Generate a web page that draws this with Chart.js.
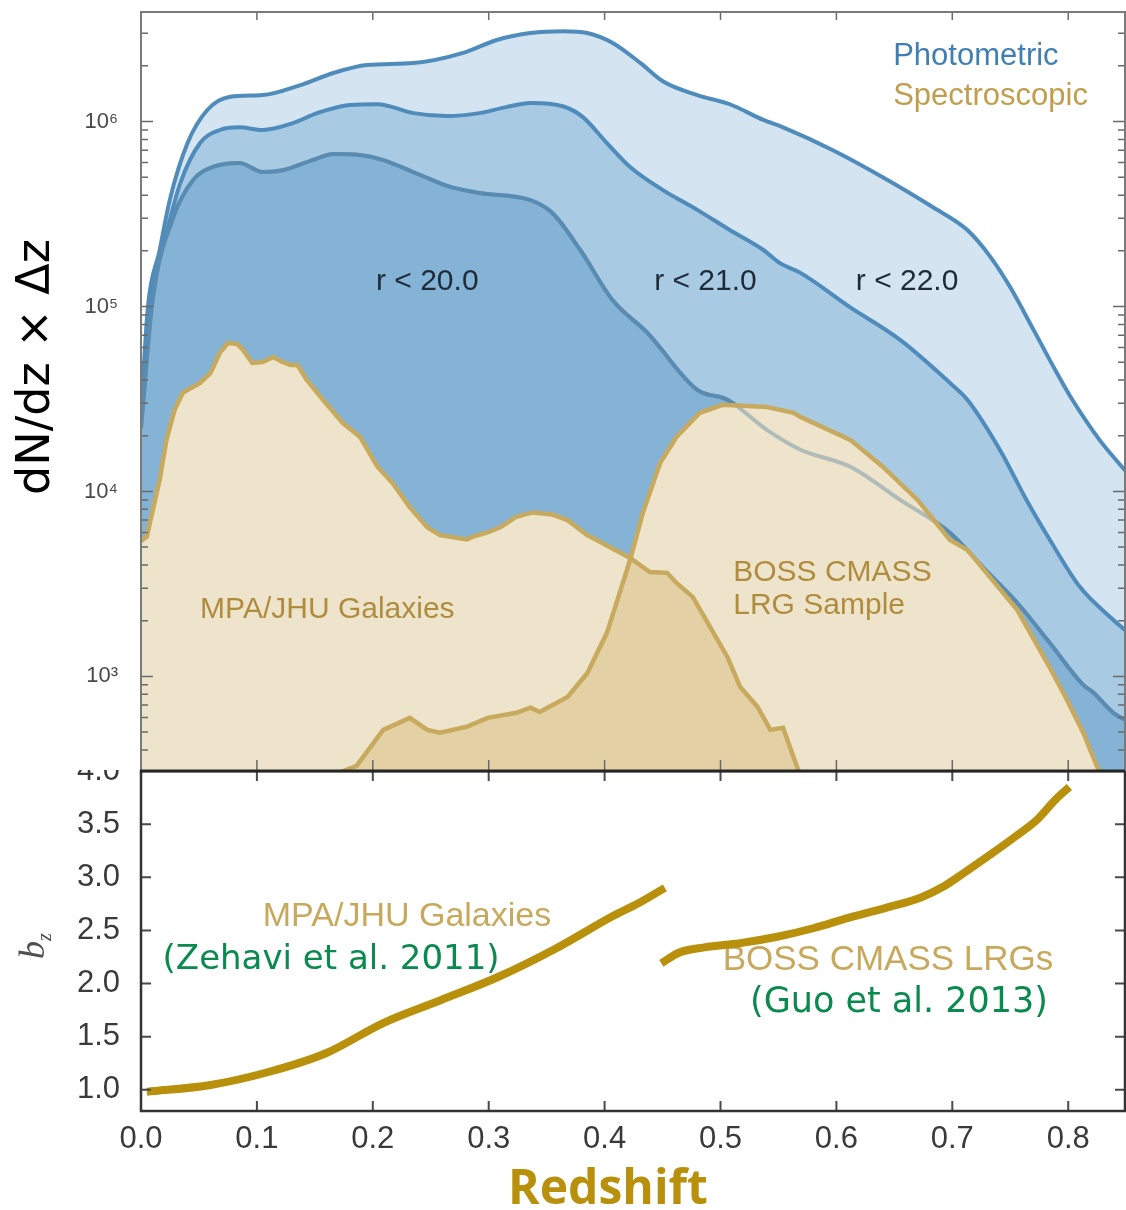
<!DOCTYPE html>
<html>
<head>
<meta charset="utf-8">
<title>Galaxy counts and bias vs redshift</title>
<script src="https://cdn.jsdelivr.net/npm/chart.js"></script>
<style>
  html, body { margin: 0; padding: 0; background: #fff; }
  #wrap { position: relative; width: 1126px; height: 1210px; overflow: hidden; }
  #wrap canvas { position: absolute; left: 0; top: 0; }
</style>
</head>
<body>
<div id="wrap">
  <canvas id="biasChart" width="1126" height="1210"></canvas>
  <canvas id="countChart" width="1126" height="1210"></canvas>
</div>
<script>
// --- axes ---
const xMax = 0.849;
const xTicks = [0, 0.1, 0.2, 0.3, 0.4, 0.5, 0.6, 0.7, 0.8];
const countMin = 308;
const countMax = 3.91e6;
const decadeTicks = [1e3, 1e4, 1e5, 1e6];
const biasMin = 0.8;
const biasMax = 4.0;
const biasTicks = [1.0, 1.5, 2.0, 2.5, 3.0, 3.5, 4.0];

// --- photometric samples: dN/dz x dz ---
const r22Z = [0, 0.006, 0.016, 0.025, 0.040, 0.057, 0.077, 0.105, 0.137, 0.166, 0.195, 0.235, 0.278, 0.307, 0.336, 0.364, 0.385, 0.407, 0.431, 0.451, 0.480, 0.508, 0.537, 0.554, 0.597, 0.640, 0.683, 0.713, 0.733, 0.750, 0.770, 0.790, 0.804, 0.827, 0.849];
const r22N = [2.6e4, 1.0e5, 2.0e5, 3.8e5, 7.6e5, 1.15e6, 1.36e6, 1.39e6, 1.57e6, 1.83e6, 2.02e6, 2.07e6, 2.35e6, 2.76e6, 3.01e6, 3.08e6, 3.01e6, 2.66e6, 2.07e6, 1.64e6, 1.39e6, 1.24e6, 1.02e6, 9.3e5, 7.0e5, 5.0e5, 3.45e5, 2.59e5, 1.85e5, 1.27e5, 7.5e4, 4.4e4, 3.1e4, 1.9e4, 1.3e4];

const r21Z = [0, 0.008, 0.022, 0.034, 0.051, 0.068, 0.085, 0.105, 0.131, 0.152, 0.180, 0.204, 0.235, 0.264, 0.292, 0.316, 0.336, 0.364, 0.381, 0.402, 0.422, 0.450, 0.480, 0.508, 0.537, 0.551, 0.569, 0.612, 0.655, 0.698, 0.713, 0.741, 0.764, 0.784, 0.810, 0.839, 0.849];
const r21N = [2.4e4, 1.05e5, 2.5e5, 4.66e5, 7.65e5, 9.0e5, 9.3e5, 9.0e5, 9.8e5, 1.11e6, 1.23e6, 1.24e6, 1.11e6, 1.07e6, 1.11e6, 1.20e6, 1.26e6, 1.21e6, 1.06e6, 7.65e5, 5.68e5, 4.27e5, 3.33e5, 2.59e5, 2.02e5, 1.72e5, 1.52e5, 9.9e4, 6.6e4, 3.86e4, 3.13e4, 1.68e4, 9.0e3, 5.5e3, 3.05e3, 2.02e3, 1.78e3];

const r20Z = [0, 0.010, 0.028, 0.045, 0.062, 0.085, 0.105, 0.123, 0.148, 0.166, 0.189, 0.209, 0.241, 0.267, 0.292, 0.336, 0.355, 0.379, 0.407, 0.437, 0.480, 0.506, 0.540, 0.569, 0.612, 0.655, 0.698, 0.726, 0.756, 0.784, 0.813, 0.821, 0.839, 0.849];
const r20N = [2.2e4, 1.08e5, 3.05e5, 4.83e5, 5.68e5, 5.97e5, 5.34e5, 5.47e5, 6.19e5, 6.67e5, 6.59e5, 6.19e5, 5.14e5, 4.43e5, 4.11e5, 3.76e5, 3.20e5, 2.02e5, 1.08e5, 7.2e4, 3.54e4, 3.13e4, 2.15e4, 1.68e4, 1.36e4, 9.0e3, 5.97e3, 3.91e3, 2.50e3, 1.52e3, 900, 825, 635, 582];

// --- spectroscopic samples ---
const mpaZ = [0, 0.005, 0.016, 0.022, 0.029, 0.036, 0.051, 0.060, 0.068, 0.075, 0.083, 0.088, 0.096, 0.105, 0.114, 0.122, 0.129, 0.135, 0.143, 0.157, 0.174, 0.189, 0.204, 0.217, 0.232, 0.247, 0.258, 0.281, 0.286, 0.299, 0.310, 0.324, 0.338, 0.355, 0.368, 0.385, 0.402, 0.422, 0.439, 0.454, 0.462, 0.476, 0.491, 0.506, 0.517, 0.532, 0.543, 0.554, 0.563, 0.569];
const mpaN = [5.4e3, 5.7e3, 1.15e4, 1.9e4, 2.76e4, 3.41e4, 3.86e4, 4.37e4, 5.61e4, 6.35e4, 6.27e4, 5.82e4, 4.95e4, 5.01e4, 5.33e4, 5.01e4, 4.83e4, 4.83e4, 4.01e4, 3.13e4, 2.35e4, 1.97e4, 1.36e4, 1.11e4, 8.2e3, 6.4e3, 5.8e3, 5.5e3, 5.68e3, 6.0e3, 6.4e3, 7.3e3, 7.7e3, 7.5e3, 7.0e3, 5.8e3, 5.1e3, 4.37e3, 3.67e3, 3.63e3, 3.2e3, 2.69e3, 1.85e3, 1.27e3, 877, 684, 514, 527, 367, 290];

const bossZ = [0.170, 0.186, 0.209, 0.232, 0.247, 0.258, 0.281, 0.299, 0.324, 0.336, 0.344, 0.368, 0.385, 0.402, 0.413, 0.422, 0.433, 0.448, 0.462, 0.482, 0.502, 0.540, 0.563, 0.569, 0.612, 0.640, 0.670, 0.698, 0.713, 0.756, 0.784, 0.799, 0.813, 0.825, 0.830];
const bossN = [300, 328, 514, 597, 514, 496, 534, 597, 636, 677, 643, 775, 1.04e3, 1.72e3, 2.83e3, 4.26e3, 7.66e3, 1.43e4, 1.97e4, 2.66e4, 2.94e4, 2.86e4, 2.66e4, 2.53e4, 1.9e4, 1.36e4, 9.0e3, 5.47e3, 4.83e3, 2.29e3, 1.12e3, 746, 496, 324, 290];

// --- clustering bias b(z) ---
const mpaBiasZ = [0.005, 0.060, 0.110, 0.160, 0.209, 0.259, 0.308, 0.358, 0.408, 0.430, 0.452];
const mpaBias = [0.98, 1.045, 1.167, 1.346, 1.628, 1.845, 2.061, 2.33, 2.64, 2.76, 2.90];
const bossBiasZ = [0.449, 0.464, 0.486, 0.517, 0.549, 0.580, 0.611, 0.642, 0.673, 0.692, 0.710, 0.735, 0.754, 0.773, 0.789, 0.801];
const bossBias = [2.19, 2.29, 2.34, 2.38, 2.44, 2.52, 2.62, 2.71, 2.81, 2.91, 3.04, 3.23, 3.38, 3.54, 3.73, 3.85];

const BLUE_LINE = '#4f8cbc';
const GOLD_LINE = '#c8aa5e';
const BIAS_GOLD = '#b8900c';
const REF_GREEN = '#0b8a4f';
const SUP = { 3: '\u00b3', 4: '\u2074', 5: '\u2075', 6: '\u2076' };

const toPoints = (zs, vals) => zs.map((z, i) => ({ x: z, y: vals[i] }));

// 1..9 x 10^n marks inside the count range
const logTickMarks = [];
for (let e = 2; e <= 6; e++) {
  for (let m = 1; m <= 9; m++) {
    const v = m * Math.pow(10, e);
    if (v >= countMin && v <= countMax) logTickMarks.push({ value: v, major: m === 1 });
  }
}

// keep the plot box exactly where the layout padding puts it
const fixWidth = w => s => { s.width = w; s.paddingTop = 0; s.paddingBottom = 0; };
const fixHeight = h => s => { s.height = h; s.paddingLeft = 0; s.paddingRight = 0; };

function areaPath(ctx, line, bottom) {
  const pts = line.points;
  line.path(ctx);
  ctx.lineTo(pts[pts.length - 1].x, bottom);
  ctx.lineTo(pts[0].x, bottom);
  ctx.closePath();
}

function drawTicks(chart, o) {
  const { ctx, chartArea: a } = chart;
  const xs = chart.scales.x, ys = chart.scales.y;
  ctx.save();
  ctx.lineWidth = o.tickWidth;
  ctx.strokeStyle = o.tickColor;
  ctx.beginPath();
  xTicks.forEach(v => {
    const px = xs.getPixelForValue(v);
    if (o.topLen) { ctx.moveTo(px, a.top); ctx.lineTo(px, a.top + o.topLen); }
    if (o.bottomLen) { ctx.moveTo(px, a.bottom); ctx.lineTo(px, a.bottom - o.bottomLen); }
  });
  ys.ticks.forEach(t => {
    const py = ys.getPixelForValue(t.value);
    const len = t.major ? o.majorLen : o.minorLen;
    ctx.moveTo(a.left, py); ctx.lineTo(a.left + len, py);
    ctx.moveTo(a.right, py); ctx.lineTo(a.right - len, py);
  });
  ctx.stroke();
  ctx.restore();
}

function text(ctx, str, x, y, font, color, align) {
  ctx.font = font;
  ctx.fillStyle = color;
  ctx.textAlign = align || 'center';
  ctx.textBaseline = 'middle';
  ctx.fillText(str, x, y);
}

// ---------------- upper panel: number counts ----------------
const countPlugin = {
  id: 'countDecor',
  beforeDraw(chart) {
    const { ctx } = chart;
    ctx.save();
    ctx.fillStyle = '#fff';
    ctx.fillRect(0, 0, chart.width, 770);
    ctx.restore();
  },
  afterDatasetDraw(chart, args) {
    // darker tint where the two spectroscopic samples overlap
    if (args.index !== 4) return;
    const { ctx, chartArea: a } = chart;
    const mpaEl = chart.getDatasetMeta(3).dataset;
    const bossEl = chart.getDatasetMeta(4).dataset;
    ctx.save();
    ctx.beginPath();
    ctx.rect(a.left, a.top, a.right - a.left, a.bottom - a.top);
    ctx.clip();
    ctx.beginPath();
    areaPath(ctx, bossEl, a.bottom);
    ctx.clip();
    ctx.beginPath();
    areaPath(ctx, mpaEl, a.bottom);
    ctx.fillStyle = '#e3d1a5';
    ctx.fill();
    ctx.restore();
  },
  afterDatasetsDraw(chart) {
    const { ctx } = chart;
    const xs = chart.scales.x, ys = chart.scales.y;
    const X = v => xs.getPixelForValue(v), Y = v => ys.getPixelForValue(v);
    ctx.save();
    const cut = '30px "Liberation Sans", Arial, sans-serif';
    text(ctx, 'r < 20.0', X(0.247), Y(1.36e5), cut, '#1f2b39');
    text(ctx, 'r < 21.0', X(0.487), Y(1.36e5), cut, '#1f2b39');
    text(ctx, 'r < 22.0', X(0.661), Y(1.36e5), cut, '#1f2b39');
    const spec = '30px "Liberation Sans", Arial, sans-serif';
    text(ctx, 'MPA/JHU Galaxies', X(0.051), Y(2.29e3), spec, '#b08c3e', 'left');
    text(ctx, 'BOSS CMASS', X(0.511), Y(3.62e3), spec, '#b08c3e', 'left');
    text(ctx, 'LRG Sample', X(0.511), Y(2.4e3), spec, '#b08c3e', 'left');
    const leg = '31px "Liberation Sans", Arial, sans-serif';
    text(ctx, 'Photometric', X(0.649), Y(2.26e6), leg, '#3f7fb4', 'left');
    text(ctx, 'Spectroscopic', X(0.649), Y(1.36e6), leg, '#c09e4c', 'left');
    ctx.restore();
  },
  afterDraw(chart) {
    const { ctx, chartArea: a } = chart;
    drawTicks(chart, { tickWidth: 1.5, tickColor: '#6a6a6a', topLen: 8, bottomLen: 11, majorLen: 12, minorLen: 7 });
    ctx.save();
    ctx.lineWidth = 2;
    ctx.strokeStyle = '#7a7a7a';
    ctx.beginPath();
    ctx.moveTo(a.left, a.bottom);
    ctx.lineTo(a.left, a.top);
    ctx.lineTo(a.right, a.top);
    ctx.lineTo(a.right, a.bottom);
    ctx.stroke();
    ctx.lineWidth = 3;
    ctx.strokeStyle = '#262626';
    ctx.beginPath();
    ctx.moveTo(a.left - 1, a.bottom);
    ctx.lineTo(a.right, a.bottom);
    ctx.stroke();
    // y axis title
    ctx.translate(37, 367);
    ctx.rotate(-Math.PI / 2);
    text(ctx, 'dN/dz \u00d7 \u0394z', 0, 0, '46px "DejaVu Sans", sans-serif', '#000');
    ctx.restore();
  }
};

const blueArea = (zs, ns, fillColor, order) => ({
  data: toPoints(zs, ns),
  borderColor: BLUE_LINE,
  borderWidth: 4,
  backgroundColor: fillColor,
  fill: 'start',
  cubicInterpolationMode: 'monotone',
  pointRadius: 0,
  order
});

new Chart(document.getElementById('countChart'), {
  type: 'line',
  data: {
    datasets: [
      blueArea(r22Z, r22N, '#d4e4f0', 10),
      blueArea(r21Z, r21N, '#a9cae3', 9),
      blueArea(r20Z, r20N, '#85b3d6', 8),
      { data: toPoints(mpaZ, mpaN), borderWidth: 0, backgroundColor: '#ede4cb', fill: 'start', pointRadius: 0, order: 7 },
      { data: toPoints(bossZ, bossN), borderWidth: 0, backgroundColor: '#ede4cb', fill: 'start', pointRadius: 0, order: 6 },
      // r < 20 edge seen faintly through the CMASS band
      { data: toPoints(r20Z, r20N), borderColor: 'rgba(105,140,165,0.45)', borderWidth: 4, fill: false, cubicInterpolationMode: 'monotone', pointRadius: 0, order: 5 },
      { data: toPoints(mpaZ, mpaN), borderColor: GOLD_LINE, borderWidth: 4.5, fill: false, pointRadius: 0, order: 4 },
      { data: toPoints(bossZ, bossN), borderColor: GOLD_LINE, borderWidth: 4.5, fill: false, pointRadius: 0, order: 3 }
    ]
  },
  options: {
    responsive: false,
    animation: false,
    events: [],
    layout: { padding: { top: 12, bottom: 1210 - 771, left: 0, right: 1 } },
    plugins: { legend: { display: false }, tooltip: { enabled: false } },
    scales: {
      x: {
        type: 'linear', min: 0, max: xMax,
        grid: { display: false }, border: { display: false },
        ticks: { display: false },
        afterFit: fixHeight(0)
      },
      y: {
        type: 'logarithmic', min: countMin, max: countMax,
        grid: { display: false }, border: { display: false },
        afterBuildTicks: s => { s.ticks = logTickMarks.map(t => ({ ...t })); },
        ticks: {
          autoSkip: false,
          padding: 15,
          color: '#4a4a4a',
          font: { family: '"Liberation Sans", Arial, sans-serif', size: 22 },
          callback: v => {
            const e = Math.round(Math.log10(v));
            return decadeTicks.includes(v) ? '10' + SUP[e] : '';
          }
        },
        afterFit: fixWidth(141)
      }
    }
  },
  plugins: [countPlugin]
});

// ---------------- lower panel: bias ----------------
const biasPlugin = {
  id: 'biasDecor',
  beforeDatasetsDraw(chart) {
    const { ctx } = chart;
    const X = v => chart.scales.x.getPixelForValue(v), Y = v => chart.scales.y.getPixelForValue(v);
    ctx.save();
    text(ctx, 'MPA/JHU Galaxies', X(0.2295), Y(2.626), '34px "Liberation Sans", Arial, sans-serif', '#c8a95c');
    text(ctx, 'BOSS CMASS LRGs', X(0.6445), Y(2.221), '35px "Liberation Sans", Arial, sans-serif', '#c8a95c');
    ctx.restore();
  },
  afterDatasetsDraw(chart) {
    const { ctx } = chart;
    const X = v => chart.scales.x.getPixelForValue(v), Y = v => chart.scales.y.getPixelForValue(v);
    ctx.save();
    text(ctx, '(Zehavi et al. 2011)', X(0.164), Y(2.221), '34px "DejaVu Sans", sans-serif', REF_GREEN);
    text(ctx, '(Guo et al. 2013)', X(0.654), Y(1.816), '35px "DejaVu Sans", sans-serif', REF_GREEN);
    ctx.restore();
  },
  afterDraw(chart) {
    const { ctx, chartArea: a } = chart;
    drawTicks(chart, { tickWidth: 2, tickColor: '#4a4a4a', topLen: 10, bottomLen: 10, majorLen: 10, minorLen: 10 });
    ctx.save();
    ctx.lineWidth = 2.5;
    ctx.strokeStyle = '#333';
    ctx.strokeRect(a.left, a.top, a.right - a.left, a.bottom - a.top);
    // axis titles
    text(ctx, 'Redshift', (a.left + a.right) / 2 - 25, 1190, 'bold 48px "Open Sans", "DejaVu Sans", sans-serif', BIAS_GOLD);
    ctx.translate(36, 945);
    ctx.rotate(-Math.PI / 2);
    ctx.fillStyle = '#505050';
    ctx.textBaseline = 'alphabetic';
    ctx.textAlign = 'left';
    ctx.font = 'italic 36px "Liberation Serif", serif';
    ctx.fillText('b', -14, 8);
    ctx.font = 'italic 20px "Liberation Serif", serif';
    ctx.fillText('z', 4, 15);
    ctx.restore();
  }
};

const biasLine = (zs, bs) => ({
  data: toPoints(zs, bs),
  borderColor: BIAS_GOLD,
  borderWidth: 8,
  borderCapStyle: 'butt',
  fill: false,
  cubicInterpolationMode: 'monotone',
  pointRadius: 0
});

new Chart(document.getElementById('biasChart'), {
  type: 'line',
  data: { datasets: [biasLine(mpaBiasZ, mpaBias), biasLine(bossBiasZ, bossBias)] },
  options: {
    responsive: false,
    animation: false,
    events: [],
    layout: { padding: { top: 771, bottom: 0, left: 0, right: 1 } },
    plugins: { legend: { display: false }, tooltip: { enabled: false } },
    scales: {
      x: {
        type: 'linear', min: 0, max: xMax,
        grid: { display: false }, border: { display: false },
        afterBuildTicks: s => { s.ticks = xTicks.map(v => ({ value: v, major: true })); },
        ticks: {
          autoSkip: false, maxRotation: 0, padding: 2,
          color: '#3a3a3a',
          font: { family: '"Liberation Sans", Arial, sans-serif', size: 31 },
          callback: v => v.toFixed(1)
        },
        afterFit: fixHeight(1210 - 1111)
      },
      y: {
        type: 'linear', min: biasMin, max: biasMax,
        grid: { display: false }, border: { display: false },
        afterBuildTicks: s => { s.ticks = biasTicks.map(v => ({ value: v, major: true })); },
        ticks: {
          autoSkip: false, padding: 13,
          color: '#3a3a3a',
          font: { family: '"Liberation Sans", Arial, sans-serif', size: 31 },
          callback: v => v.toFixed(1)
        },
        afterFit: fixWidth(141)
      }
    }
  },
  plugins: [biasPlugin]
});
</script>
</body>
</html>
